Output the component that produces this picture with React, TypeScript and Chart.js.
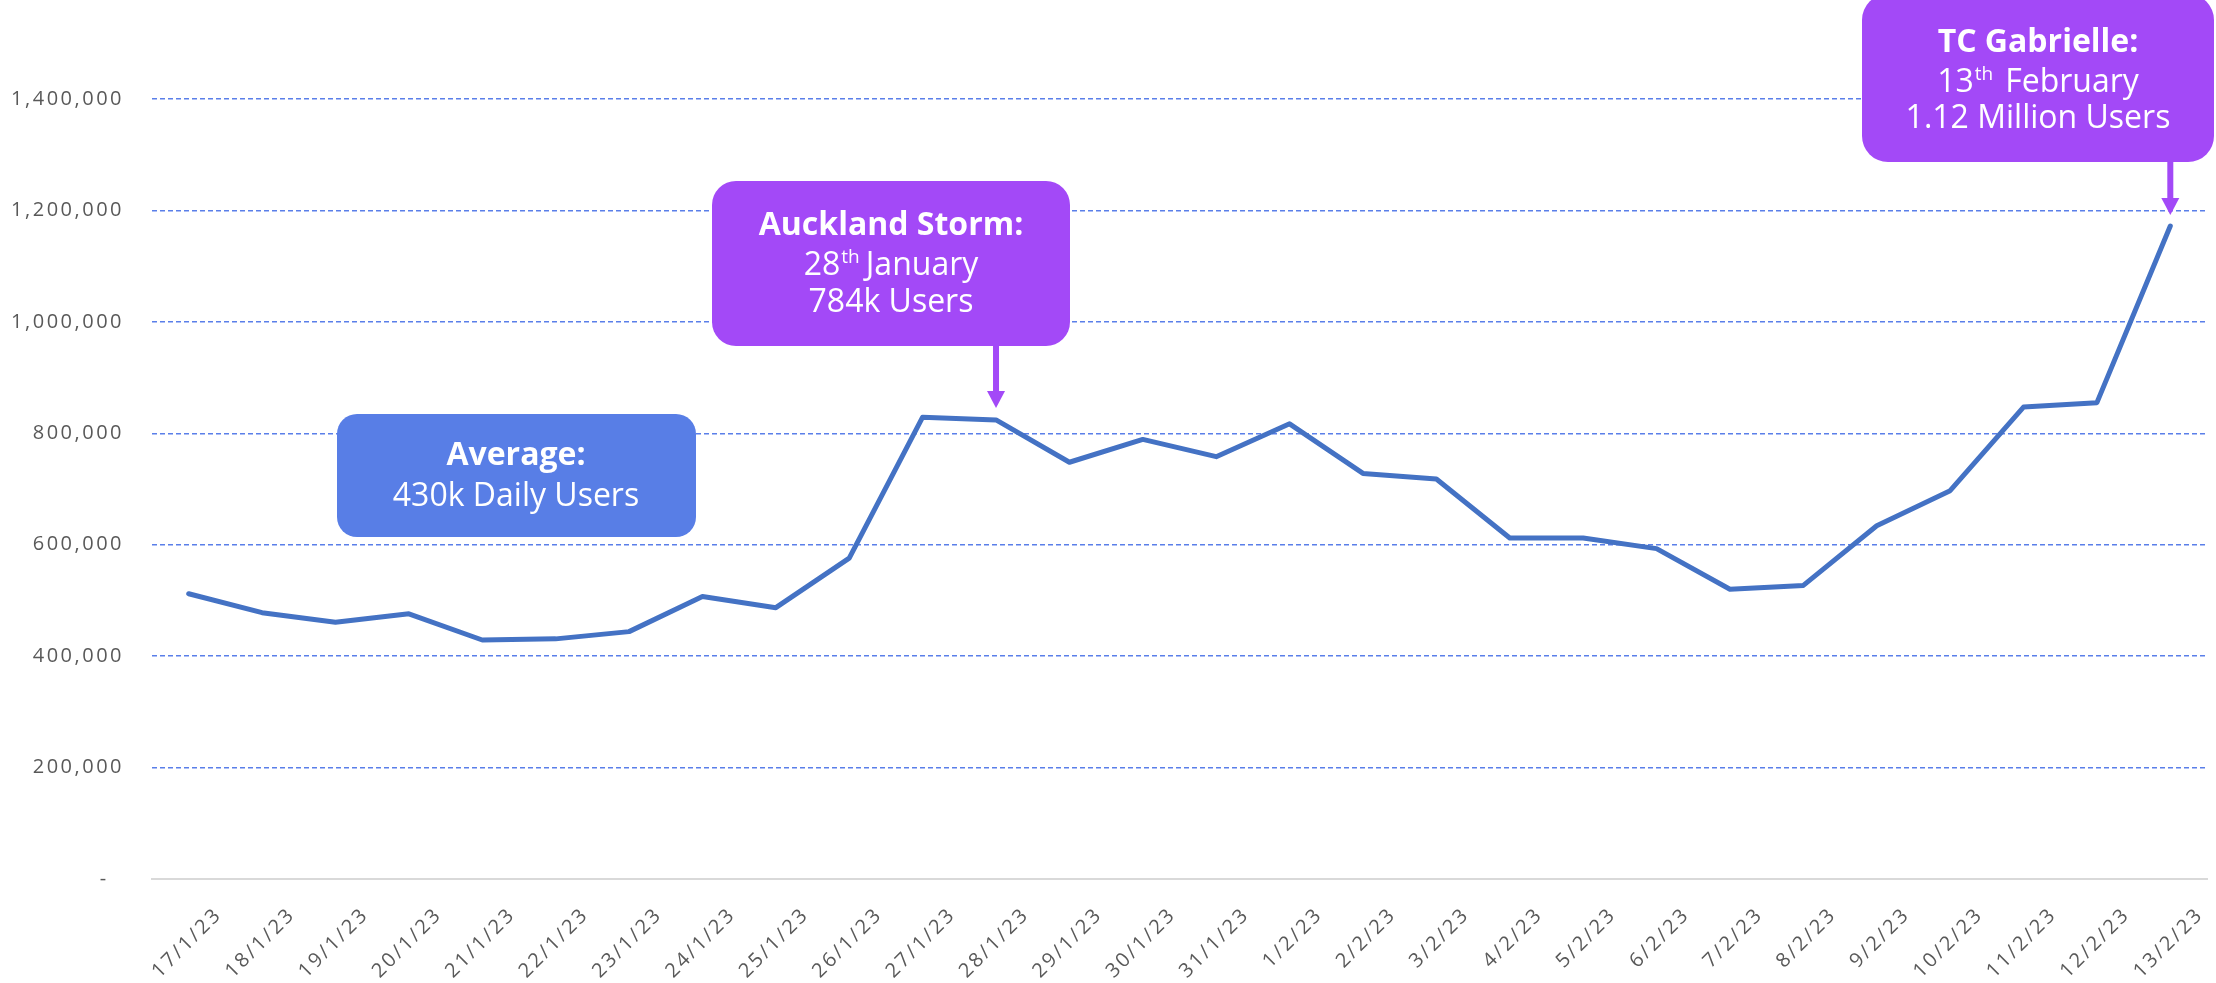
import { useEffect, useRef } from 'react';
import { Chart, registerables } from 'chart.js';

Chart.register(...registerables);

const dates = [
  '17/1/23', '18/1/23', '19/1/23', '20/1/23', '21/1/23', '22/1/23', '23/1/23',
  '24/1/23', '25/1/23', '26/1/23', '27/1/23', '28/1/23', '29/1/23', '30/1/23',
  '31/1/23', '1/2/23', '2/2/23', '3/2/23', '4/2/23', '5/2/23', '6/2/23',
  '7/2/23', '8/2/23', '9/2/23', '10/2/23', '11/2/23', '12/2/23', '13/2/23',
];

const dailyUsers = [
  512000, 478000, 461000, 476000, 429000, 431000, 444000,
  507000, 487000, 576000, 829000, 824000, 748000, 789000,
  758000, 817000, 728000, 718000, 612000, 612000, 593000,
  520000, 527000, 634000, 697000, 847000, 855000, 1172000,
];

const yTicks = [0, 200000, 400000, 600000, 800000, 1000000, 1200000, 1400000];

// Callout texts
const averageLines = ['Average:', '430k Daily Users'];
const stormTitle = 'Auckland Storm:';
const stormDate = ['28', 'th', 'January'];
const stormUsers = '784k Users';
const stormIndex = 11;
const gabrielleTitle = 'TC Gabrielle:';
const gabrielleDate = ['13', 'th', 'February'];
const gabrielleUsers = '1.12 Million Users';
const gabrielleIndex = 27;

const PURPLE = '#A349F7';
const BLUE_BOX = '#587EE6';
const GRID_BLUE = '#5A7FE9';
const FONT = '"Open Sans", "DejaVu Sans", sans-serif';

function roundRect(ctx: CanvasRenderingContext2D, x: number, y: number, w: number, h: number, r: number, color: string) {
  ctx.beginPath();
  ctx.moveTo(x + r, y);
  ctx.lineTo(x + w - r, y);
  ctx.arcTo(x + w, y, x + w, y + r, r);
  ctx.lineTo(x + w, y + h - r);
  ctx.arcTo(x + w, y + h, x + w - r, y + h, r);
  ctx.lineTo(x + r, y + h);
  ctx.arcTo(x, y + h, x, y + h - r, r);
  ctx.lineTo(x, y + r);
  ctx.arcTo(x, y, x + r, y, r);
  ctx.closePath();
  ctx.fillStyle = color;
  ctx.fill();
}

function centerText(ctx: CanvasRenderingContext2D, text: string, cx: number, baseline: number, bold: boolean) {
  ctx.font = `${bold ? 'bold ' : ''}32px ${FONT}`;
  ctx.textAlign = 'center';
  ctx.textBaseline = 'alphabetic';
  ctx.fillStyle = '#ffffff';
  ctx.fillText(text, cx, baseline);
}

function supText(ctx: CanvasRenderingContext2D, parts: string[], cx: number, baseline: number, gap: number) {
  const big = `32px ${FONT}`;
  const small = `19px ${FONT}`;
  ctx.textAlign = 'left';
  ctx.textBaseline = 'alphabetic';
  ctx.fillStyle = '#ffffff';
  ctx.font = big;
  const w1 = ctx.measureText(parts[0]).width;
  const w3 = ctx.measureText(parts[2]).width;
  ctx.font = small;
  const w2 = ctx.measureText(parts[1]).width;
  const total = w1 + w2 + gap + w3;
  let x = cx - total / 2;
  ctx.font = big;
  ctx.fillText(parts[0], x, baseline);
  x += w1;
  ctx.font = small;
  ctx.fillText(parts[1], x + 1, baseline - 12);
  x += w2 + gap;
  ctx.font = big;
  ctx.fillText(parts[2], x, baseline);
}

function arrow(ctx: CanvasRenderingContext2D, x: number, y1: number, y2: number) {
  ctx.fillStyle = PURPLE;
  ctx.fillRect(x - 3, y1 - 1, 6, y2 - y1 - 15);
  ctx.beginPath();
  ctx.moveTo(x - 9, y2 - 17);
  ctx.lineTo(x + 9, y2 - 17);
  ctx.lineTo(x, y2);
  ctx.closePath();
  ctx.fill();
}

const spacingPlugin = {
  id: 'letterSpacing',
  beforeLayout(chart: any) {
    chart.ctx.letterSpacing = '2.5px';
  },
  beforeDraw(chart: any) {
    chart.ctx.letterSpacing = '2.5px';
  },
};

const calloutPlugin = {
  id: 'callouts',
  afterDraw(chart: any) {
    const ctx: CanvasRenderingContext2D = chart.ctx;
    const xs = chart.scales.x;
    const ys = chart.scales.y;
    ctx.save();
    (ctx as any).letterSpacing = '0px';

    // Average box
    roundRect(ctx, 337, 414, 359, 123, 20, BLUE_BOX);
    centerText(ctx, averageLines[0], 516, 465, true);
    centerText(ctx, averageLines[1], 516, 506, false);

    // Auckland storm box
    roundRect(ctx, 712, 181, 358, 165, 24, PURPLE);
    centerText(ctx, stormTitle, 891, 235, true);
    supText(ctx, stormDate, 891, 275, 7);
    centerText(ctx, stormUsers, 891, 312, false);
    const sx = xs.getPixelForValue(stormIndex);
    arrow(ctx, sx, 346, ys.getPixelForValue(dailyUsers[stormIndex]) - 12);

    // Gabrielle box
    roundRect(ctx, 1862, -6, 352, 168, 26, PURPLE);
    centerText(ctx, gabrielleTitle, 2038, 52, true);
    supText(ctx, gabrielleDate, 2038, 92, 13);
    centerText(ctx, gabrielleUsers, 2038, 128, false);
    const gx = xs.getPixelForValue(gabrielleIndex);
    arrow(ctx, gx, 162, ys.getPixelForValue(dailyUsers[gabrielleIndex]) - 11);

    ctx.restore();
  },
};

export default function App() {
  const ref = useRef<HTMLCanvasElement>(null);

  useEffect(() => {
    document.body.style.margin = '0';
    document.body.style.overflow = 'hidden';
    const canvas = ref.current;
    if (!canvas) return;
    const chart = new Chart(canvas, {
      type: 'line',
      data: {
        labels: dates,
        datasets: [
          {
            label: 'Daily Users',
            data: dailyUsers,
            borderColor: '#4472C4',
            borderWidth: 5,
            pointRadius: 0,
            tension: 0,
            borderCapStyle: 'round',
            borderJoinStyle: 'round',
            fill: false,
          },
        ],
      },
      options: {
        animation: false,
        responsive: false,
        devicePixelRatio: 1,
        layout: { padding: { top: 99, right: 9, left: 0, bottom: 0 } },
        plugins: {
          legend: { display: false },
          tooltip: { enabled: false },
          title: { display: false },
        },
        scales: {
          x: {
            offset: true,
            grid: { display: false, drawTicks: false },
            border: { display: true, color: '#D9D9D9', width: 2 },
            ticks: {
              autoSkip: false,
              maxRotation: 45,
              minRotation: 45,
              color: '#595959',
              padding: 24,
              labelOffset: 30,
              font: { family: FONT, size: 20 },
            },
            afterFit: (scale: any) => {
              scale.height = 104;
            },
          },
          y: {
            min: 0,
            max: 1400000,
            afterBuildTicks: (scale: any) => {
              scale.ticks = yTicks.map((v) => ({ value: v }));
            },
            grid: {
              drawTicks: false,
              lineWidth: 1.5,
              color: (c: any) => (c.tick && c.tick.value === 0 ? 'rgba(0,0,0,0)' : GRID_BLUE),
            },
            border: { display: false, dash: [5, 3] },
            ticks: {
              color: '#595959',
              padding: 28,
              font: { family: FONT, size: 20 },
              callback: (v: any) => (Number(v) === 0 ? '-  ' : Number(v).toLocaleString('en-US')),
            },
            afterFit: (scale: any) => {
              scale.width = 152;
            },
          },
        },
      },
      plugins: [spacingPlugin, calloutPlugin],
    });
    return () => chart.destroy();
  }, []);

  return (
    <div style={{ width: 2216, height: 983, overflow: 'hidden' }}>
      <canvas ref={ref} width={2216} height={983} style={{ display: 'block' }} />
    </div>
  );
}
